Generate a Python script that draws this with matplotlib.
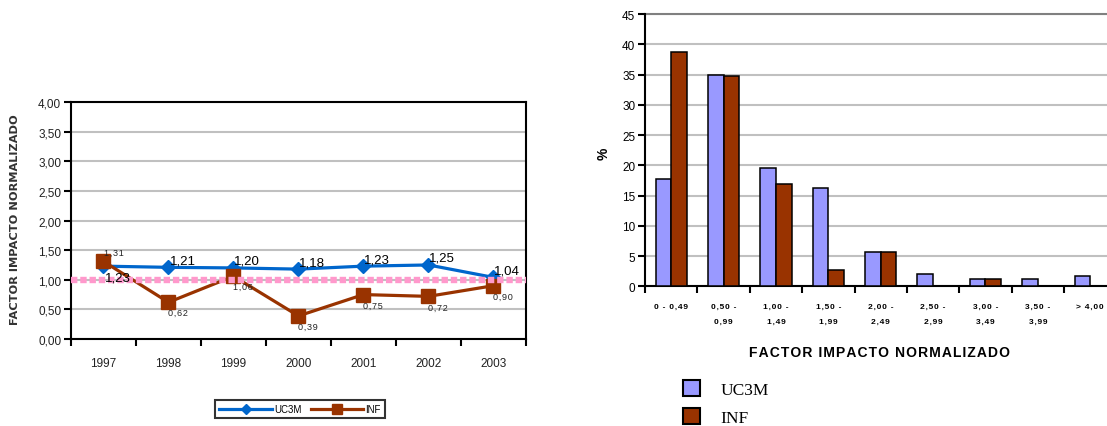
import matplotlib
matplotlib.use("Agg")
import matplotlib.pyplot as plt
from matplotlib.patches import Patch
from matplotlib.lines import Line2D
import numpy as np

# ---- data ---------------------------------------------------------------
years = ["1997", "1998", "1999", "2000", "2001", "2002", "2003"]
uc3m_fin = [1.23, 1.21, 1.20, 1.18, 1.23, 1.25, 1.04]
inf_fin = [1.31, 0.62, 1.06, 0.39, 0.75, 0.72, 0.90]
reference_level = 1.00

ranges = ["0 - 0,49", "0,50 -\n0,99", "1,00 -\n1,49", "1,50 -\n1,99",
          "2,00 -\n2,49", "2,50 -\n2,99", "3,00 -\n3,49", "3,50 -\n3,99",
          "> 4,00"]
uc3m_pct = [17.8, 35.0, 19.5, 16.2, 5.6, 2.0, 1.3, 1.3, 1.65]
inf_pct = [38.8, 34.7, 16.9, 2.7, 5.6, 0.0, 1.3, 0.0, 0.0]

series_names = ["UC3M", "INF"]
axis_title = "FACTOR IMPACTO NORMALIZADO"

# ---- style --------------------------------------------------------------
BLUE = "#0066CC"
BROWN = "#993300"
LILAC = "#9999FF"
PINK = "#FF99CC"
GRID = "#C0C0C0"
SANS = "Liberation Sans"
HAIR = "\u200a"

plt.rcParams["font.family"] = [SANS, "DejaVu Sans"]


def tracked(s, gap=HAIR):
    """Widen letter spacing by placing a hair space between characters."""
    return "\n".join(gap.join(line) for line in s.split("\n"))


fig = plt.figure(figsize=(11.07, 4.27), dpi=100)

# ======================= left: yearly line chart ==========================
ax1 = fig.add_axes([0.0641, 0.2037, 0.411, 0.555])
x = np.arange(len(years))

ax1.plot(x, uc3m_fin, color=BLUE, lw=2.3, marker="D", ms=7,
         mfc=BLUE, mec=BLUE, zorder=4, label=series_names[0])
ax1.plot(x, inf_fin, color=BROWN, lw=2.3, marker="s", ms=10,
         mfc=BROWN, mec=BROWN, zorder=4, label=series_names[1])
ax1.axhline(reference_level, color=PINK, lw=4.6, dashes=(1, 0.45),
            dash_capstyle="butt", zorder=5)

# value labels (the first year has its two labels swapped in place)
uc3m_off = [(1, -5, "top")] + [(1, 1, "bottom")] * (len(years) - 1)
inf_off = [(1, 5, "bottom")] + [(0, -6, "top")] * (len(years) - 1)
for i, v in enumerate(uc3m_fin):
    dx, dy, va = uc3m_off[i]
    ax1.annotate(f"{v:.2f}".replace(".", ","), (x[i], v),
                 xytext=(dx, dy), textcoords="offset pixels",
                 ha="left", va=va, fontsize=9.5, color="black", zorder=6)
for i, v in enumerate(inf_fin):
    dx, dy, va = inf_off[i]
    ax1.annotate(tracked(f"{v:.2f}".replace(".", ",")), (x[i], v),
                 xytext=(dx, dy), textcoords="offset pixels",
                 ha="left", va=va, fontsize=6.5, color="#222222", zorder=6)

ax1.set_xlim(-0.5, len(years) - 0.5)
ax1.set_ylim(0, 4)
yt = np.arange(0, 4.01, 0.5)
ax1.set_yticks(yt)
ax1.set_yticklabels([f"{t:.2f}".replace(".", ",") for t in yt],
                    fontsize=8.5, color="#222222")
ax1.set_xticks(x)
ax1.set_xticklabels(years, fontsize=8.5, color="#222222")
ax1.set_xticks(np.arange(-0.5, len(years)), minor=True)
ax1.tick_params(axis="x", which="major", length=0, pad=13)
ax1.tick_params(axis="x", which="minor", length=5, width=1.5, direction="out")
ax1.tick_params(axis="y", length=5, width=1.5, pad=2)
ax1.yaxis.grid(True, color=GRID, lw=1.5)
ax1.set_axisbelow(True)
for s in ax1.spines.values():
    s.set_linewidth(1.5)
    s.set_color("black")

fig.text(0.0135, 0.485, axis_title, rotation=90,
         ha="center", va="center", fontsize=8.2, fontweight="bold",
         family="DejaVu Sans Condensed", color="#333333")

leg1 = fig.legend(
    handles=[Line2D([], [], color=BLUE, lw=2.3, marker="D", ms=5),
             Line2D([], [], color=BROWN, lw=2.3, marker="s", ms=7)],
    labels=series_names, loc="center", bbox_to_anchor=(0.271, 0.0398),
    ncol=2, fontsize=7, frameon=True, fancybox=False, handlelength=5.4,
    handletextpad=0.2, columnspacing=1.0, borderpad=0.45)
leg1.get_frame().set_edgecolor("black")
leg1.get_frame().set_linewidth(1.5)

# ================= right: distribution of normalised impact ==============
ax2 = fig.add_axes([0.5827, 0.327, 0.4258, 0.6377])
xc = np.arange(len(ranges))
bw = 0.3
ax2.bar(xc - bw / 2, uc3m_pct, width=bw, color=LILAC, edgecolor="black",
        lw=1.1, zorder=3)
ax2.bar(xc + bw / 2, inf_pct, width=bw, color=BROWN, edgecolor="black",
        lw=1.1, zorder=3)

ax2.set_xlim(-0.5, len(ranges) - 0.5)
ax2.set_ylim(0, 45)
ax2.set_yticks(np.arange(0, 46, 5))
ax2.set_yticklabels([str(t) for t in range(0, 46, 5)], fontsize=8.5)
ax2.set_xticks(xc)
ax2.set_xticklabels([tracked(r) for r in ranges], fontsize=6, fontweight="bold",
                    linespacing=2.5, va="top")
ax2.set_xticks(np.arange(-0.5, len(ranges)), minor=True)
ax2.tick_params(axis="x", which="major", length=0, pad=12)
ax2.tick_params(axis="x", which="minor", length=5, width=1.5, direction="out")
ax2.tick_params(axis="y", length=5, width=1.5, pad=2)
ax2.yaxis.grid(True, color=GRID, lw=1.5)
ax2.set_axisbelow(True)
ax2.spines["top"].set_visible(False)
ax2.spines["right"].set_visible(False)
ax2.axhline(45, color="#808080", lw=1.5, zorder=2, clip_on=False)
for side in ("left", "bottom"):
    ax2.spines[side].set_linewidth(1.5)
    ax2.spines[side].set_color("black")

ax2.set_ylabel("%", fontsize=10, fontweight="bold", rotation=90)
ax2.yaxis.set_label_coords(-0.074, 0.49)

fig.text(0.7947, 0.173, tracked(axis_title), ha="center",
         va="center", fontsize=10, fontweight="bold")

fig.legend(handles=[Patch(facecolor=LILAC, edgecolor="black", lw=1.5),
                    Patch(facecolor=BROWN, edgecolor="black", lw=1.5)],
           labels=series_names, loc="upper left",
           bbox_to_anchor=(0.609, 0.128), ncol=1,
           prop={"family": "Liberation Serif", "size": 12.5},
           frameon=False, handlelength=1.0, handleheight=1.0,
           handletextpad=1.15, labelspacing=0.6, borderpad=0.0)

fig.savefig("out.png", dpi=100)
